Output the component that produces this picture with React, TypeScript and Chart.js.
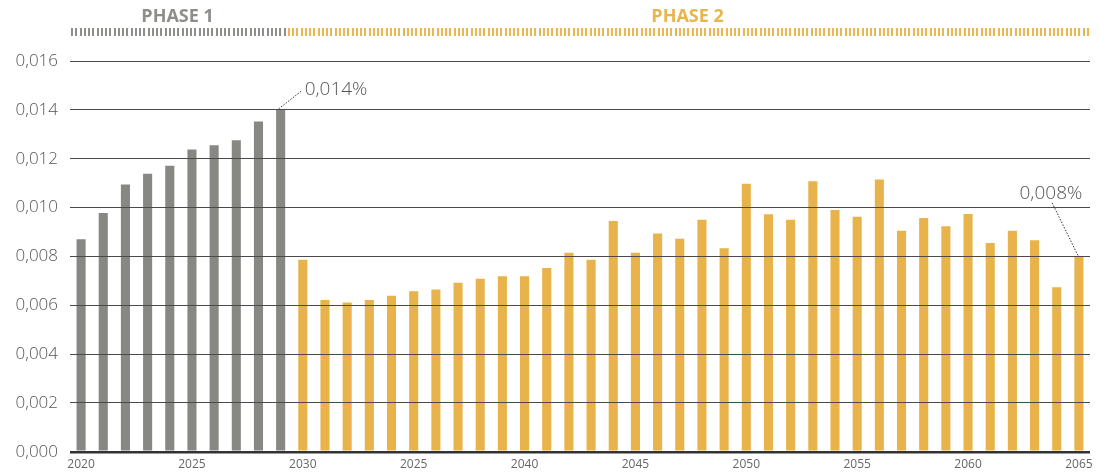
import React, { useEffect, useRef } from "react";
import { Chart, registerables } from "chart.js";

Chart.register(...registerables);

const categories = [
  "2020", "2021", "2022", "2023", "2024", "2025", "2026", "2027", "2028", "2029",
  "2030", "2031", "2032", "2033", "2034", "2035", "2036", "2037", "2038", "2039",
  "2040", "2041", "2042", "2043", "2044", "2045", "2046", "2047", "2048", "2049",
  "2050", "2051", "2052", "2053", "2054", "2055", "2056", "2057", "2058", "2059",
  "2060", "2061", "2062", "2063", "2064", "2065",
];

const phase1Values = [
  0.0087, 0.00978, 0.01094, 0.01138, 0.01171, 0.01238, 0.01255, 0.01276, 0.01352, 0.0140,
];

const phase2Values = [
  0.00786, 0.00622, 0.00611, 0.00622, 0.00639, 0.00657, 0.00664, 0.00692, 0.00708, 0.00719,
  0.00719, 0.00753, 0.00815, 0.00786, 0.00945, 0.00815, 0.00894, 0.00872, 0.0095, 0.00833,
  0.01097, 0.00973, 0.0095, 0.01108, 0.0099, 0.00962, 0.01115, 0.00905, 0.00957, 0.00923,
  0.00974, 0.00855, 0.00905, 0.00866, 0.00674, 0.0080,
];

const tickLabels = ["2020", "2025", "2030", "2025", "2040", "2045", "2050", "2055", "2060", "2065"];

const yTickValues = [0, 0.002, 0.004, 0.006, 0.008, 0.01, 0.012, 0.014, 0.016];

const phaseNames = ["PHASE 1", "PHASE 2"];

const annotationIndices = [9, 45];
const annotationLabels = ["0,014%", "0,008%"];

const GREY = "#878883";
const ORANGE = "#e7b34a";

const FONT = "'Open Sans', 'DejaVu Sans', sans-serif";

export default function App() {
  const canvasRef = useRef<HTMLCanvasElement | null>(null);

  useEffect(() => {
    const canvas = canvasRef.current;
    if (!canvas) return;
    const values = [...phase1Values, ...phase2Values];
    const colors = values.map((_, i) => (i < phase1Values.length ? GREY : ORANGE));

    const headerPlugin = {
      id: "header",
      afterDraw(chart: any) {
        const ctx = chart.ctx;
        const area = chart.chartArea;
        const meta = chart.getDatasetMeta(0);
        const lastP1 = meta.data[phase1Values.length - 1];
        const split = lastP1.x + lastP1.width / 2;
        const ranges = [
          [area.left, split],
          [split, area.right],
        ];
        ctx.save();
        const step = 4.25;
        for (let x = area.left + 1; x < area.right; x += step) {
          ctx.fillStyle = x < split ? "#8d8e89" : "#eab64e";
          ctx.fillRect(Math.round(x), 28, 2, 8);
        }
        ctx.font = `bold 18px ${FONT}`;
        ctx.textAlign = "center";
        ctx.textBaseline = "alphabetic";
        ranges.forEach((r, i) => {
          ctx.fillStyle = i === 0 ? "#8d8e89" : "#e8b44c";
          ctx.fillText(phaseNames[i], (r[0] + r[1]) / 2, 22);
        });
        ctx.restore();
      },
      afterDatasetsDraw(chart: any) {
        const ctx = chart.ctx;
        const meta = chart.getDatasetMeta(0);
        ctx.save();
        ctx.font = `300 19px ${FONT}`;
        ctx.fillStyle = "#555";
        ctx.strokeStyle = "#333";
        ctx.lineWidth = 1;
        ctx.setLineDash([1.5, 1.5]);
        const b1 = meta.data[annotationIndices[0]];
        ctx.beginPath();
        ctx.moveTo(b1.x - 2, b1.y - 1);
        ctx.lineTo(b1.x + 21, b1.y - 19);
        ctx.stroke();
        ctx.textAlign = "left";
        ctx.textBaseline = "middle";
        ctx.fillText(annotationLabels[0], b1.x + 24, b1.y - 20);
        const b2 = meta.data[annotationIndices[1]];
        ctx.beginPath();
        ctx.moveTo(b2.x - 1, b2.y - 1);
        ctx.lineTo(b2.x - 27, b2.y - 54);
        ctx.stroke();
        ctx.textAlign = "center";
        ctx.fillText(annotationLabels[1], b2.x - 28, b2.y - 63);
        ctx.restore();
      },
    };

    const chart = new Chart(canvas, {
      type: "bar",
      data: {
        labels: categories,
        datasets: [
          {
            data: values,
            backgroundColor: colors,
            borderWidth: 0,
            barPercentage: 0.41,
            categoryPercentage: 1,
          },
        ],
      },
      options: {
        animation: false,
        responsive: true,
        maintainAspectRatio: false,
        layout: { padding: { top: 61, right: 9, left: 0, bottom: 0 } },
        plugins: {
          legend: { display: false },
          tooltip: { enabled: false },
          title: { display: false },
        },
        scales: {
          x: {
            offset: true,
            grid: { display: false, drawTicks: false },
            border: { display: false },
            ticks: {
              autoSkip: false,
              maxRotation: 0,
              minRotation: 0,
              padding: 6,
              color: "#666",
              font: { family: FONT, size: 12 },
              callback: (_v: any, i: number) => (i % 5 === 0 ? tickLabels[i / 5] : ""),
            },
            afterFit: (s: any) => {
              s.height = 22;
            },
          },
          y: {
            min: 0,
            max: 0.016,
            afterBuildTicks: (s: any) => {
              s.ticks = yTickValues.map((v) => ({ value: v }));
            },
            grid: {
              z: 1,
              drawTicks: false,
              color: (c: any) => (c.tick && c.tick.value === 0 ? "#333" : "#4a4a4a"),
              lineWidth: (c: any) => (c.tick && c.tick.value === 0 ? 2.5 : 1),
            },
            border: { display: false },
            ticks: {
              padding: 12,
              color: "#555",
              font: { family: FONT, size: 17, weight: "300" as any },
              callback: (v: any) => Number(v).toFixed(3).replace(".", ","),
            },
            afterFit: (s: any) => {
              s.width = 70;
            },
          },
        },
      },
      plugins: [headerPlugin],
    });

    return () => chart.destroy();
  }, []);

  return (
    <div style={{ position: "fixed", left: 0, top: 0, width: 1099, height: 474, background: "#fff" }}>
      <canvas ref={canvasRef} />
    </div>
  );
}
